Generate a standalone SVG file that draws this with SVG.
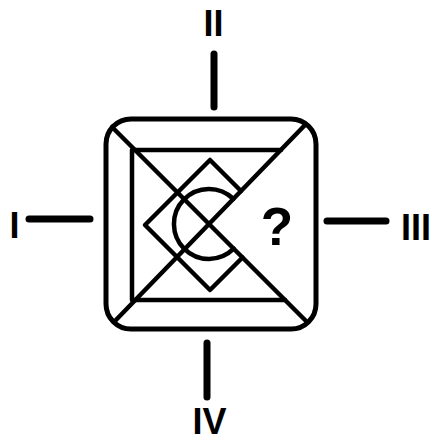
<svg xmlns="http://www.w3.org/2000/svg" width="432" height="441" viewBox="0 0 432 441">
<style>
.ln{stroke:#000;fill:none;stroke-linecap:round;stroke-linejoin:round}
.box{stroke-width:5}
.in{stroke-width:4.5}
.tick{stroke-width:7}
.lbl{font-family:"Liberation Sans",Arial,sans-serif;font-weight:bold;font-size:36px;fill:#000;text-anchor:middle}
</style>
<rect width="432" height="441" fill="#fff"/>
<g id="figure">
<rect class="ln box" x="106" y="119" width="210" height="210" rx="25"/>
<line class="ln in" x1="112" y1="127" x2="307" y2="322"/>
<line class="ln in" x1="305" y1="125" x2="114" y2="322"/>
<polyline class="ln in" points="281,150 132,150 132,300 285,300"/>
<polyline class="ln in" points="241,191 210,160 145,225 210,290 242.5,257.5"/>
<path class="ln in" d="M233.4,198.9 A35,35 0 1 0 233.7,248.7"/>
<text x="277" y="245" font-family="Liberation Sans, Arial, sans-serif" font-weight="bold" font-size="53" text-anchor="middle" fill="#000">?</text>
</g>
<g id="connectors">
<line class="ln tick" x1="214" y1="54" x2="214" y2="107"/>
<line class="ln tick" x1="29" y1="219" x2="90" y2="219"/>
<line class="ln tick" x1="327" y1="221" x2="386" y2="221"/>
<line class="ln tick" x1="207" y1="343" x2="207" y2="397"/>
</g>
<g id="label-II"><text class="lbl" x="213.5" y="36">II</text></g>
<g id="label-I"><text class="lbl" x="14.5" y="238">I</text></g>
<g id="label-III"><text class="lbl" x="416" y="240">III</text></g>
<g id="label-IV"><text class="lbl" x="209.5" y="434" font-size="34">IV</text></g>
</svg>
